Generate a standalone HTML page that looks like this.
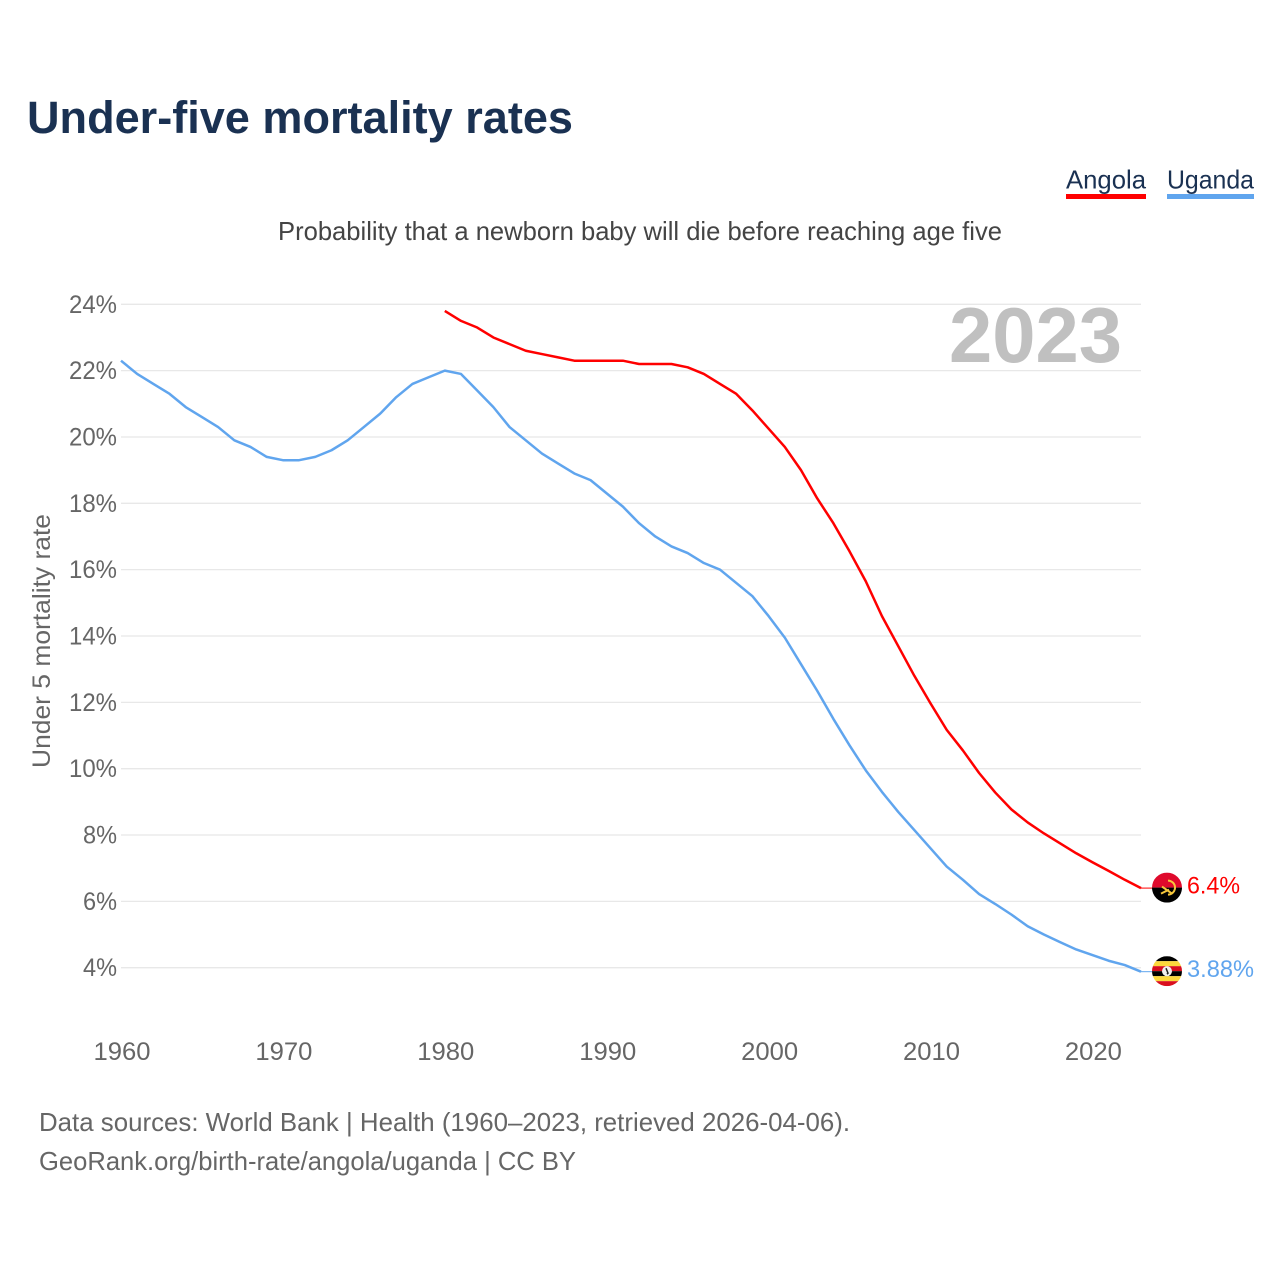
<!DOCTYPE html>
<html lang="en">
<head>
<meta charset="utf-8">
<title>Under-five mortality rates</title>
<style>
html,body{margin:0;padding:0;background:#fff;}
svg{display:block;font-family:"Liberation Sans",sans-serif;}
</style>
</head>
<body>
<svg id="chart" xmlns="http://www.w3.org/2000/svg" width="1280" height="1280" viewBox="0 0 1280 1280">
  <rect width="1280" height="1280" fill="#ffffff"/>
  <text x="27" y="133" font-size="45" font-weight="700" fill="#1a3152" textLength="546" lengthAdjust="spacingAndGlyphs">Under-five mortality rates</text>
  <g>
    <text x="1066" y="188.5" font-size="26" fill="#1a3152" textLength="80" lengthAdjust="spacingAndGlyphs">Angola</text>
    <rect x="1066" y="194" width="80" height="5" fill="#ff0000"/>
  </g>
  <g>
    <text x="1167" y="188.5" font-size="26" fill="#1a3152" textLength="87" lengthAdjust="spacingAndGlyphs">Uganda</text>
    <rect x="1167" y="194" width="87" height="5" fill="#60a5ee"/>
  </g>
  <text x="278" y="240" font-size="26" fill="#444444" textLength="724" lengthAdjust="spacingAndGlyphs">Probability that a newborn baby will die before reaching age five</text>
  <g id="grid"></g>
  <g id="ytick-labels"></g>
  <g id="xtick-labels"></g>
  <text transform="translate(50,768) rotate(-90)" font-size="25" fill="#666666" textLength="254" lengthAdjust="spacingAndGlyphs">Under 5 mortality rate</text>
  <text x="949" y="362" font-size="78" font-weight="700" fill="#c0c0c0" textLength="173" lengthAdjust="spacingAndGlyphs">2023</text>
  <path id="line-angola" fill="none" stroke="#ff0000" stroke-width="2.5" stroke-linejoin="round"/>
  <path id="line-uganda" fill="none" stroke="#60a5ee" stroke-width="2.5" stroke-linejoin="round"/>
  <line id="lead-angola" stroke="#ff0000" stroke-width="1"/>
  <line id="lead-uganda" stroke="#60a5ee" stroke-width="1"/>
  <defs>
    <clipPath id="clip-flag-a"><circle cx="0" cy="0" r="15"/></clipPath>
    <clipPath id="clip-flag-u"><circle cx="0" cy="0" r="15"/></clipPath>
  </defs>
  <g id="flag-angola">
    <g clip-path="url(#clip-flag-a)">
      <rect x="-15" y="-15" width="30" height="15" fill="#df0a2c"/>
      <rect x="-15" y="0" width="30" height="15" fill="#000000"/>
      <path d="M1,-7 A7,7 0 0 1 1,7" fill="none" stroke="#f6c83c" stroke-width="2"/>
      <path d="M-5,-1 L5,6 M-6,6 L2,2" fill="none" stroke="#f6c83c" stroke-width="2"/>
    </g>
  </g>
  <g id="flag-uganda">
    <g clip-path="url(#clip-flag-u)">
      <rect x="-15" y="-15" width="30" height="5" fill="#000000"/>
      <rect x="-15" y="-10" width="30" height="5" fill="#fcd83c"/>
      <rect x="-15" y="-5" width="30" height="5" fill="#d90f1e"/>
      <rect x="-15" y="0" width="30" height="5" fill="#000000"/>
      <rect x="-15" y="5" width="30" height="5" fill="#fcd83c"/>
      <rect x="-15" y="10" width="30" height="5" fill="#d90f1e"/>
      <circle cx="0" cy="0" r="5" fill="#f0f0f0"/>
      <path d="M-1,-3 L1,2 L0,3" fill="none" stroke="#222222" stroke-width="1.5"/>
    </g>
  </g>
  <text id="value-angola" x="1187" font-size="24" fill="#ff0000" textLength="53" lengthAdjust="spacingAndGlyphs"></text>
  <text id="value-uganda" x="1187" font-size="24" fill="#60a5ee" textLength="67" lengthAdjust="spacingAndGlyphs"></text>
  <text x="39" y="1131" font-size="26" fill="#666666" textLength="811" lengthAdjust="spacingAndGlyphs">Data sources: World Bank | Health (1960–2023, retrieved 2026-04-06).</text>
  <text x="39" y="1170" font-size="26" fill="#666666" textLength="537" lengthAdjust="spacingAndGlyphs">GeoRank.org/birth-rate/angola/uganda | CC BY</text>
</svg>
<script>
const yTicks = [4, 6, 8, 10, 12, 14, 16, 18, 20, 22, 24];
const xTicks = [1960, 1970, 1980, 1990, 2000, 2010, 2020];
const ugandaStart = 1960;
const ugandaValues = [22.3,21.9,21.6,21.3,20.9,20.6,20.3,19.9,19.7,19.4,19.3,19.3,19.4,19.6,19.9,20.3,20.7,21.2,21.6,21.8,22.0,21.9,21.4,20.9,20.3,19.9,19.5,19.2,18.9,18.7,18.3,17.9,17.4,17.0,16.7,16.5,16.2,16.0,15.6,15.2,14.6,13.95,13.15,12.35,11.5,10.7,9.95,9.3,8.7,8.15,7.6,7.05,6.65,6.22,5.92,5.6,5.25,5.0,4.77,4.55,4.38,4.21,4.08,3.88];
const angolaStart = 1980;
const angolaValues = [23.8,23.5,23.3,23.0,22.8,22.6,22.5,22.4,22.3,22.3,22.3,22.3,22.2,22.2,22.2,22.1,21.9,21.6,21.3,20.8,20.25,19.7,19.0,18.15,17.4,16.55,15.65,14.6,13.7,12.8,11.97,11.17,10.55,9.87,9.28,8.77,8.38,8.05,7.75,7.45,7.18,6.92,6.65,6.4];
const NS = 'http://www.w3.org/2000/svg';
const xScale = year => 121 + (year - 1960) * (1141 - 121) / 63;
const yScale = value => 967.7 - (value - 4) * (967.7 - 304.3) / 20;
const gridGroup = document.getElementById('grid');
const yGroup = document.getElementById('ytick-labels');
const xGroup = document.getElementById('xtick-labels');
yTicks.forEach(tick => {
  const line = document.createElementNS(NS, 'line');
  
  
  line.setAttribute('x1', 121);
  line.setAttribute('x2', 1141);
  line.setAttribute('y1', yScale(tick));
  line.setAttribute('y2', yScale(tick));
  line.setAttribute('stroke', '#e8e8e8');
  line.setAttribute('stroke-width', '1.3');
  gridGroup.appendChild(line);
  const label = document.createElementNS(NS, 'text');
  
  
  label.setAttribute('x', 117);
  label.setAttribute('y', yScale(tick) + 8.5);
  label.setAttribute('text-anchor', 'end');
  label.setAttribute('font-size', '25');
  label.setAttribute('fill', '#666666');
  label.setAttribute('textLength', tick < 10 ? '34' : '48');
  label.setAttribute('lengthAdjust', 'spacingAndGlyphs');
  label.textContent = tick + '%';
  yGroup.appendChild(label);
});
xTicks.forEach(tick => {
  const label = document.createElementNS(NS, 'text');
  
  
  label.setAttribute('x', xScale(tick) + 1);
  label.setAttribute('y', 1060);
  label.setAttribute('text-anchor', 'middle');
  label.setAttribute('font-size', '25');
  label.setAttribute('fill', '#666666');
  label.setAttribute('textLength', '57');
  label.setAttribute('lengthAdjust', 'spacingAndGlyphs');
  label.textContent = tick;
  xGroup.appendChild(label);
});
function linePath(start, values) {
  return values.map((v, i) => (i ? 'L' : 'M') + xScale(start + i).toFixed(2) + ',' + yScale(v).toFixed(2)).join('');
}
function placeEnd(key, start, values, text) {
  const last = values[values.length - 1];
  const endX = xScale(start + values.length - 1);
  const endY = yScale(last);
  document.getElementById('line-' + key).setAttribute('d', linePath(start, values));
  const lead = document.getElementById('lead-' + key);
  lead.setAttribute('x1', endX);
  lead.setAttribute('x2', endX + 11);
  lead.setAttribute('y1', endY);
  lead.setAttribute('y2', endY);
  document.getElementById('flag-' + key).setAttribute('transform', 'translate(1167,' + (endY - 0.5) + ')');
  const valueLabel = document.getElementById('value-' + key);
  valueLabel.setAttribute('y', endY + 5.5);
  valueLabel.textContent = text;
}
placeEnd('angola', angolaStart, angolaValues, angolaValues[angolaValues.length - 1] + '%');
placeEnd('uganda', ugandaStart, ugandaValues, ugandaValues[ugandaValues.length - 1] + '%');
</script>
</body>
</html>
